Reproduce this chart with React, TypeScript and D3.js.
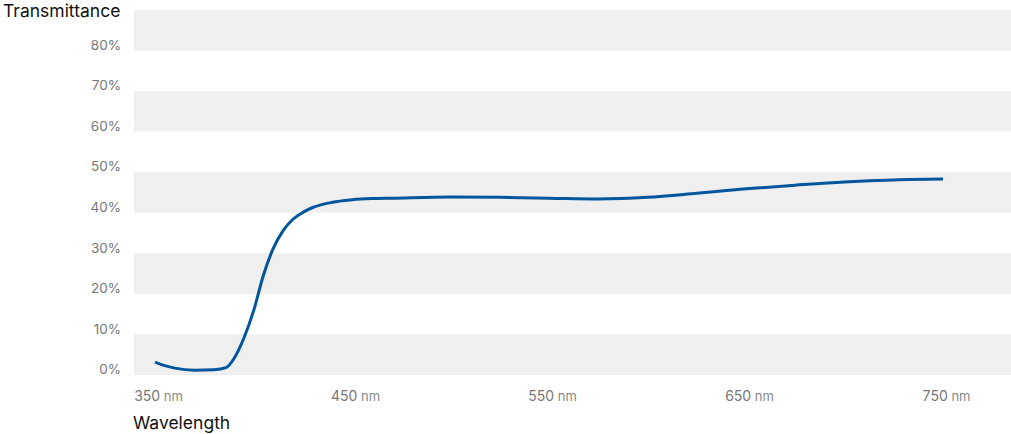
import React from "react";
import * as d3 from "d3";

const wavelengths = [350, 355, 360, 370, 380, 386, 390, 395, 400, 405, 410, 415, 420, 425, 430, 440, 450, 460, 470, 500, 525, 550, 575, 600, 625, 650, 675, 700, 725, 750];
const transmittance = [3.2, 2.3, 1.7, 1.2, 1.3, 1.8, 4.0, 9.0, 15.8, 24.6, 31.2, 35.6, 38.4, 40.1, 41.3, 42.6, 43.2, 43.5, 43.6, 43.9, 43.8, 43.6, 43.4, 43.8, 44.8, 45.9, 46.8, 47.6, 48.1, 48.3];
const yTicks = [0, 10, 20, 30, 40, 50, 60, 70, 80];
const xTicks = [350, 450, 550, 650, 750];
const bandStarts = [0, 20, 40, 60, 80];

const W = 1011;
const H = 434;

export default function App() {
  const x = d3.scaleLinear().domain([339.3, 784.5]).range([134, 1011]);
  const y = d3.scaleLinear().domain([0, 90]).range([375, 10]);
  const pts = wavelengths.map((w, i) => [w, transmittance[i]] as [number, number]);
  const line = d3
    .line<[number, number]>()
    .x((d) => x(d[0]))
    .y((d) => y(d[1]))
    .curve(d3.curveMonotoneX);
  const font = "Inter, 'Noto Sans', sans-serif";
  return (
    <svg
      width={W}
      height={H}
      style={{ position: "absolute", left: 0, top: 0, display: "block" }}
      fontFamily={font}
    >
      {bandStarts.map((b) => (
        <rect key={b} x={134} width={W - 134} y={y(b + 10)} height={y(b) - y(b + 10)} fill="#efefef" />
      ))}
      {yTicks.map((t) => (
        <text key={t} x={121} y={y(t) - 4.5} textAnchor="end" dominantBaseline="middle" fontSize={13.5} fill="#777">
          {t}%
        </text>
      ))}
      {xTicks.map((t) => (
        <text key={t} x={x(t) + 3.5} y={397} textAnchor="middle" dominantBaseline="middle" fill="#777">
          <tspan fontSize={14}>{t}</tspan>
          <tspan fontSize={13} fill="#888">{" nm"}</tspan>
        </text>
      ))}
      <path d={line(pts) || ""} fill="none" stroke="#00569c" strokeWidth={3} />
      <text x={3} y={12} dominantBaseline="middle" fontSize={17.5} fill="#111">
        Transmittance
      </text>
      <text x={133} y={424} dominantBaseline="middle" fontSize={17.5} fill="#111">
        Wavelength
      </text>
    </svg>
  );
}
